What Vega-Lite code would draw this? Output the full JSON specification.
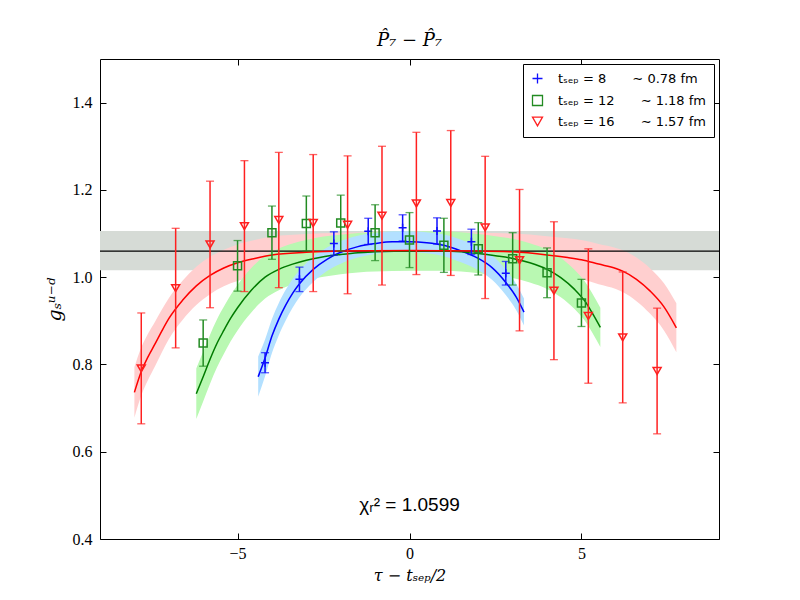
{
  "$schema": "https://vega.github.io/schema/vega-lite/v6.json",
  "width": 619,
  "height": 480,
  "autosize": {"type": "none"},
  "padding": {"left": 100, "top": 59, "right": 81, "bottom": 61},
  "background": "white",
  "title": {"text": "P̂₇ − P̂₇", "font": "DejaVu Serif", "fontStyle": "italic", "fontWeight": "normal", "fontSize": 18, "offset": 9, "color": "black"},
  "config": {
    "view": {"stroke": "black", "strokeWidth": 1},
    "axis": {"grid": false, "domain": false, "tickColor": "black", "tickSize": -6, "tickWidth": 1, "labelFont": "Liberation Serif", "labelFontSize": 16, "labelColor": "black", "titleFont": "DejaVu Serif", "titleFontStyle": "italic", "titleFontSize": 16, "titleFontWeight": "normal", "titleColor": "black"},
    "legend": {"orient": "top-right", "offset": 5, "padding": 8, "strokeColor": "black", "fillColor": "white", "cornerRadius": 0, "labelFont": "DejaVu Sans", "labelFontSize": 13, "labelColor": "black", "symbolStrokeWidth": 1.3, "rowPadding": 5, "labelOffset": 14}
  },
  "datasets": {
    "pts": [
      {"s": "8", "x": -4.2, "y": 0.804, "lo": 0.781, "hi": 0.827},
      {"s": "8", "x": -3.2, "y": 0.995, "lo": 0.967, "hi": 1.023},
      {"s": "8", "x": -2.2, "y": 1.077, "lo": 1.050, "hi": 1.104},
      {"s": "8", "x": -1.2, "y": 1.105, "lo": 1.075, "hi": 1.135},
      {"s": "8", "x": -0.2, "y": 1.113, "lo": 1.083, "hi": 1.143},
      {"s": "8", "x": 0.8, "y": 1.106, "lo": 1.076, "hi": 1.136},
      {"s": "8", "x": 1.8, "y": 1.081, "lo": 1.052, "hi": 1.110},
      {"s": "8", "x": 2.8, "y": 1.009, "lo": 0.982, "hi": 1.036},
      {"s": "12", "x": -6, "y": 0.849, "lo": 0.796, "hi": 0.902},
      {"s": "12", "x": -5, "y": 1.026, "lo": 0.968, "hi": 1.084},
      {"s": "12", "x": -4, "y": 1.102, "lo": 1.041, "hi": 1.163},
      {"s": "12", "x": -3, "y": 1.123, "lo": 1.060, "hi": 1.186},
      {"s": "12", "x": -2, "y": 1.124, "lo": 1.060, "hi": 1.188},
      {"s": "12", "x": -1, "y": 1.102, "lo": 1.038, "hi": 1.166},
      {"s": "12", "x": 0, "y": 1.085, "lo": 1.022, "hi": 1.148},
      {"s": "12", "x": 1, "y": 1.073, "lo": 1.011, "hi": 1.135},
      {"s": "12", "x": 2, "y": 1.065, "lo": 1.005, "hi": 1.125},
      {"s": "12", "x": 3, "y": 1.042, "lo": 0.982, "hi": 1.102},
      {"s": "12", "x": 4, "y": 1.010, "lo": 0.953, "hi": 1.067},
      {"s": "12", "x": 5, "y": 0.941, "lo": 0.887, "hi": 0.995},
      {"s": "16", "x": -7.8, "y": 0.791, "lo": 0.664, "hi": 0.918},
      {"s": "16", "x": -6.8, "y": 0.975, "lo": 0.838, "hi": 1.112},
      {"s": "16", "x": -5.8, "y": 1.075, "lo": 0.930, "hi": 1.220},
      {"s": "16", "x": -4.8, "y": 1.117, "lo": 0.967, "hi": 1.267},
      {"s": "16", "x": -3.8, "y": 1.131, "lo": 0.976, "hi": 1.286},
      {"s": "16", "x": -2.8, "y": 1.124, "lo": 0.967, "hi": 1.281},
      {"s": "16", "x": -1.8, "y": 1.120, "lo": 0.962, "hi": 1.278},
      {"s": "16", "x": -0.8, "y": 1.141, "lo": 0.982, "hi": 1.300},
      {"s": "16", "x": 0.2, "y": 1.169, "lo": 1.006, "hi": 1.332},
      {"s": "16", "x": 1.2, "y": 1.170, "lo": 1.004, "hi": 1.336},
      {"s": "16", "x": 2.2, "y": 1.114, "lo": 0.951, "hi": 1.277},
      {"s": "16", "x": 3.2, "y": 1.039, "lo": 0.877, "hi": 1.201},
      {"s": "16", "x": 4.2, "y": 0.969, "lo": 0.811, "hi": 1.127},
      {"s": "16", "x": 5.2, "y": 0.911, "lo": 0.757, "hi": 1.065},
      {"s": "16", "x": 6.2, "y": 0.862, "lo": 0.712, "hi": 1.012},
      {"s": "16", "x": 7.2, "y": 0.785, "lo": 0.641, "hi": 0.929}
    ],
    "curves": [
      {"s": "8", "x": -4.4, "y": 0.772, "lo": 0.726, "hi": 0.818},
      {"s": "8", "x": -4.2, "y": 0.815, "lo": 0.773, "hi": 0.857},
      {"s": "8", "x": -4.0, "y": 0.865, "lo": 0.826, "hi": 0.904},
      {"s": "8", "x": -3.8, "y": 0.904, "lo": 0.867, "hi": 0.941},
      {"s": "8", "x": -3.6, "y": 0.936, "lo": 0.901, "hi": 0.971},
      {"s": "8", "x": -3.4, "y": 0.963, "lo": 0.930, "hi": 0.996},
      {"s": "8", "x": -3.2, "y": 0.985, "lo": 0.954, "hi": 1.016},
      {"s": "8", "x": -2.8, "y": 1.018, "lo": 0.989, "hi": 1.047},
      {"s": "8", "x": -2.4, "y": 1.041, "lo": 1.014, "hi": 1.068},
      {"s": "8", "x": -2.0, "y": 1.057, "lo": 1.031, "hi": 1.083},
      {"s": "8", "x": -1.5, "y": 1.070, "lo": 1.045, "hi": 1.095},
      {"s": "8", "x": -1.0, "y": 1.077, "lo": 1.053, "hi": 1.101},
      {"s": "8", "x": -0.5, "y": 1.081, "lo": 1.057, "hi": 1.105},
      {"s": "8", "x": 0.0, "y": 1.081, "lo": 1.057, "hi": 1.105},
      {"s": "8", "x": 0.5, "y": 1.079, "lo": 1.055, "hi": 1.103},
      {"s": "8", "x": 1.0, "y": 1.073, "lo": 1.048, "hi": 1.098},
      {"s": "8", "x": 1.5, "y": 1.060, "lo": 1.034, "hi": 1.086},
      {"s": "8", "x": 2.0, "y": 1.043, "lo": 1.016, "hi": 1.070},
      {"s": "8", "x": 2.4, "y": 1.022, "lo": 0.994, "hi": 1.050},
      {"s": "8", "x": 2.8, "y": 0.988, "lo": 0.959, "hi": 1.017},
      {"s": "8", "x": 3.1, "y": 0.955, "lo": 0.925, "hi": 0.985},
      {"s": "8", "x": 3.33, "y": 0.920, "lo": 0.889, "hi": 0.951},
      {"s": "12", "x": -6.2, "y": 0.733, "lo": 0.675, "hi": 0.791},
      {"s": "12", "x": -6.0, "y": 0.772, "lo": 0.715, "hi": 0.829},
      {"s": "12", "x": -5.8, "y": 0.812, "lo": 0.756, "hi": 0.868},
      {"s": "12", "x": -5.6, "y": 0.848, "lo": 0.793, "hi": 0.903},
      {"s": "12", "x": -5.4, "y": 0.878, "lo": 0.824, "hi": 0.932},
      {"s": "12", "x": -5.2, "y": 0.906, "lo": 0.853, "hi": 0.959},
      {"s": "12", "x": -5.0, "y": 0.930, "lo": 0.878, "hi": 0.982},
      {"s": "12", "x": -4.6, "y": 0.970, "lo": 0.919, "hi": 1.021},
      {"s": "12", "x": -4.2, "y": 1.000, "lo": 0.951, "hi": 1.049},
      {"s": "12", "x": -3.8, "y": 1.018, "lo": 0.970, "hi": 1.066},
      {"s": "12", "x": -3.4, "y": 1.030, "lo": 0.983, "hi": 1.077},
      {"s": "12", "x": -3.0, "y": 1.039, "lo": 0.993, "hi": 1.085},
      {"s": "12", "x": -2.5, "y": 1.047, "lo": 1.001, "hi": 1.093},
      {"s": "12", "x": -2.0, "y": 1.052, "lo": 1.007, "hi": 1.097},
      {"s": "12", "x": -1.5, "y": 1.056, "lo": 1.011, "hi": 1.101},
      {"s": "12", "x": -1.0, "y": 1.058, "lo": 1.013, "hi": 1.103},
      {"s": "12", "x": 0.0, "y": 1.060, "lo": 1.015, "hi": 1.105},
      {"s": "12", "x": 1.0, "y": 1.060, "lo": 1.015, "hi": 1.105},
      {"s": "12", "x": 1.5, "y": 1.058, "lo": 1.013, "hi": 1.103},
      {"s": "12", "x": 2.0, "y": 1.054, "lo": 1.009, "hi": 1.099},
      {"s": "12", "x": 2.5, "y": 1.049, "lo": 1.004, "hi": 1.094},
      {"s": "12", "x": 3.0, "y": 1.043, "lo": 0.998, "hi": 1.088},
      {"s": "12", "x": 3.5, "y": 1.033, "lo": 0.988, "hi": 1.078},
      {"s": "12", "x": 4.0, "y": 1.018, "lo": 0.973, "hi": 1.063},
      {"s": "12", "x": 4.4, "y": 0.999, "lo": 0.954, "hi": 1.044},
      {"s": "12", "x": 4.8, "y": 0.972, "lo": 0.927, "hi": 1.017},
      {"s": "12", "x": 5.1, "y": 0.945, "lo": 0.900, "hi": 0.990},
      {"s": "12", "x": 5.3, "y": 0.920, "lo": 0.875, "hi": 0.965},
      {"s": "12", "x": 5.55, "y": 0.885, "lo": 0.840, "hi": 0.930},
      {"s": "16", "x": -8.0, "y": 0.736, "lo": 0.678, "hi": 0.794},
      {"s": "16", "x": -7.8, "y": 0.784, "lo": 0.729, "hi": 0.839},
      {"s": "16", "x": -7.6, "y": 0.818, "lo": 0.765, "hi": 0.871},
      {"s": "16", "x": -7.4, "y": 0.847, "lo": 0.796, "hi": 0.898},
      {"s": "16", "x": -7.2, "y": 0.877, "lo": 0.828, "hi": 0.926},
      {"s": "16", "x": -7.0, "y": 0.905, "lo": 0.858, "hi": 0.952},
      {"s": "16", "x": -6.6, "y": 0.947, "lo": 0.902, "hi": 0.992},
      {"s": "16", "x": -6.2, "y": 0.980, "lo": 0.936, "hi": 1.024},
      {"s": "16", "x": -5.8, "y": 1.004, "lo": 0.961, "hi": 1.047},
      {"s": "16", "x": -5.4, "y": 1.021, "lo": 0.979, "hi": 1.063},
      {"s": "16", "x": -5.0, "y": 1.033, "lo": 0.991, "hi": 1.075},
      {"s": "16", "x": -4.5, "y": 1.043, "lo": 1.001, "hi": 1.085},
      {"s": "16", "x": -4.0, "y": 1.051, "lo": 1.009, "hi": 1.093},
      {"s": "16", "x": -3.0, "y": 1.057, "lo": 1.015, "hi": 1.099},
      {"s": "16", "x": -2.0, "y": 1.060, "lo": 1.018, "hi": 1.102},
      {"s": "16", "x": 0.0, "y": 1.061, "lo": 1.019, "hi": 1.103},
      {"s": "16", "x": 2.0, "y": 1.060, "lo": 1.018, "hi": 1.102},
      {"s": "16", "x": 3.0, "y": 1.058, "lo": 1.016, "hi": 1.100},
      {"s": "16", "x": 4.0, "y": 1.051, "lo": 1.008, "hi": 1.094},
      {"s": "16", "x": 4.6, "y": 1.045, "lo": 1.001, "hi": 1.089},
      {"s": "16", "x": 5.0, "y": 1.040, "lo": 0.995, "hi": 1.085},
      {"s": "16", "x": 5.5, "y": 1.030, "lo": 0.984, "hi": 1.076},
      {"s": "16", "x": 6.0, "y": 1.020, "lo": 0.973, "hi": 1.067},
      {"s": "16", "x": 6.2, "y": 1.014, "lo": 0.966, "hi": 1.062},
      {"s": "16", "x": 6.6, "y": 0.995, "lo": 0.945, "hi": 1.045},
      {"s": "16", "x": 7.0, "y": 0.968, "lo": 0.916, "hi": 1.020},
      {"s": "16", "x": 7.4, "y": 0.932, "lo": 0.878, "hi": 0.986},
      {"s": "16", "x": 7.76, "y": 0.884, "lo": 0.828, "hi": 0.940}
    ]
  },
  "layer": [
    {
      "data": {"values": [{"lo": 1.016, "hi": 1.106}]},
      "mark": {"type": "rect", "color": "#d6dbd6"},
      "encoding": {
        "y": {"field": "lo", "type": "quantitative", "scale": {"domain": [0.4, 1.5], "nice": false, "zero": false},
              "axis": {"orient": "left", "values": [0.4, 0.6, 0.8, 1.0, 1.2, 1.4], "format": ".1f", "title": "gₛᵘ⁻ᵈ", "labelPadding": 14, "titlePadding": 8, "titleFontSize": 19}},
        "y2": {"field": "hi"}
      }
    },
    {
      "data": {"name": "curves"},
      "transform": [{"filter": "datum.s == '16'"}],
      "mark": {"type": "area", "color": "#ffcfcf", "interpolate": "monotone", "opacity": 1},
      "encoding": {
        "x": {"field": "x", "type": "quantitative", "scale": {"domain": [-9, 9], "nice": false, "zero": false},
              "axis": {"orient": "bottom", "values": [-5, 0, 5], "title": "τ − tₛₑₚ/2", "labelPadding": 12, "titlePadding": 6}},
        "y": {"field": "lo", "type": "quantitative", "scale": {"domain": [0.4, 1.5], "nice": false, "zero": false},
              "axis": {"orient": "right", "values": [0.4, 0.6, 0.8, 1.0, 1.2, 1.4], "labels": false, "title": null}},
        "y2": {"field": "hi"}
      }
    },
    {
      "data": {"name": "curves"},
      "transform": [{"filter": "datum.s == '12'"}],
      "mark": {"type": "area", "color": "#b9f8b2", "interpolate": "monotone", "opacity": 1},
      "encoding": {
        "x": {"field": "x", "type": "quantitative", "scale": {"domain": [-9, 9], "nice": false, "zero": false},
              "axis": {"orient": "top", "values": [-5, 0, 5], "labels": false, "title": null}},
        "y": {"field": "lo", "type": "quantitative", "scale": {"domain": [0.4, 1.5], "nice": false, "zero": false}, "axis": null},
        "y2": {"field": "hi"}
      }
    },
    {
      "data": {"name": "curves"},
      "transform": [{"filter": "datum.s == '8'"}],
      "mark": {"type": "area", "color": "#b3e0ff", "interpolate": "monotone", "opacity": 1},
      "encoding": {
        "x": {"field": "x", "type": "quantitative", "scale": {"domain": [-9, 9], "nice": false, "zero": false}, "axis": null},
        "y": {"field": "lo", "type": "quantitative", "scale": {"domain": [0.4, 1.5], "nice": false, "zero": false}, "axis": null},
        "y2": {"field": "hi"}
      }
    },
    {
      "data": {"values": [{"v": 1.0599}]},
      "mark": {"type": "rule", "color": "black", "strokeWidth": 1.3},
      "encoding": {
        "y": {"field": "v", "type": "quantitative", "scale": {"domain": [0.4, 1.5], "nice": false, "zero": false}, "axis": null}
      }
    },
    {
      "data": {"name": "curves"},
      "mark": {"type": "line", "interpolate": "monotone", "strokeWidth": 1.5},
      "encoding": {
        "x": {"field": "x", "type": "quantitative", "scale": {"domain": [-9, 9], "nice": false, "zero": false}, "axis": null},
        "y": {"field": "y", "type": "quantitative", "scale": {"domain": [0.4, 1.5], "nice": false, "zero": false}, "axis": null},
        "color": {"field": "s", "type": "nominal", "scale": {"domain": ["8", "12", "16"], "range": ["#0000ff", "#007a00", "#ff0000"]}, "legend": null}
      }
    },
    {
      "data": {"name": "pts"},
      "mark": {"type": "rule", "strokeWidth": 1.5},
      "encoding": {
        "x": {"field": "x", "type": "quantitative", "scale": {"domain": [-9, 9], "nice": false, "zero": false}, "axis": null},
        "y": {"field": "lo", "type": "quantitative", "scale": {"domain": [0.4, 1.5], "nice": false, "zero": false}, "axis": null},
        "y2": {"field": "hi"},
        "color": {"field": "s", "type": "nominal", "scale": {"domain": ["8", "12", "16"], "range": ["#1010ff", "#228b22", "#ff2020"]}, "legend": null}
      }
    },
    {
      "data": {"name": "pts"},
      "mark": {"type": "tick", "orient": "horizontal", "size": 8, "thickness": 1.3},
      "encoding": {
        "x": {"field": "x", "type": "quantitative", "scale": {"domain": [-9, 9], "nice": false, "zero": false}, "axis": null},
        "y": {"field": "lo", "type": "quantitative", "scale": {"domain": [0.4, 1.5], "nice": false, "zero": false}, "axis": null},
        "color": {"field": "s", "type": "nominal", "scale": {"domain": ["8", "12", "16"], "range": ["#1010ff", "#228b22", "#ff2020"]}, "legend": null}
      }
    },
    {
      "data": {"name": "pts"},
      "mark": {"type": "tick", "orient": "horizontal", "size": 8, "thickness": 1.3},
      "encoding": {
        "x": {"field": "x", "type": "quantitative", "scale": {"domain": [-9, 9], "nice": false, "zero": false}, "axis": null},
        "y": {"field": "hi", "type": "quantitative", "scale": {"domain": [0.4, 1.5], "nice": false, "zero": false}, "axis": null},
        "color": {"field": "s", "type": "nominal", "scale": {"domain": ["8", "12", "16"], "range": ["#1010ff", "#228b22", "#ff2020"]}, "legend": null}
      }
    },
    {
      "data": {"name": "pts"},
      "mark": {"type": "point", "filled": false, "size": 64, "strokeWidth": 1.5, "opacity": 1},
      "encoding": {
        "x": {"field": "x", "type": "quantitative", "scale": {"domain": [-9, 9], "nice": false, "zero": false}, "axis": null},
        "y": {"field": "y", "type": "quantitative", "scale": {"domain": [0.4, 1.5], "nice": false, "zero": false}, "axis": null},
        "color": {"field": "s", "type": "nominal", "scale": {"domain": ["8", "12", "16"], "range": ["#1010ff", "#228b22", "#ff2020"]},
                  "legend": {"title": null, "labelExpr": "datum.label == '8' ? 'tₛₑₚ = 8\u2003\u2003∼ 0.78 fm' : datum.label == '12' ? 'tₛₑₚ = 12\u2003\u2003∼ 1.18 fm' : 'tₛₑₚ = 16\u2003\u2003∼ 1.57 fm'"}},
        "shape": {"field": "s", "type": "nominal", "scale": {"domain": ["8", "12", "16"], "range": ["M-1,0H1M0,-1V1", "square", "triangle-down"]},
                  "legend": {"title": null, "labelExpr": "datum.label == '8' ? 'tₛₑₚ = 8\u2003\u2003∼ 0.78 fm' : datum.label == '12' ? 'tₛₑₚ = 12\u2003\u2003∼ 1.18 fm' : 'tₛₑₚ = 16\u2003\u2003∼ 1.57 fm'"}}
      }
    },
    {
      "data": {"values": [{}]},
      "mark": {"type": "text", "text": "χᵣ² = 1.0599", "font": "Liberation Sans", "fontSize": 19, "align": "center", "baseline": "middle", "color": "black"},
      "encoding": {
        "x": {"datum": 0, "type": "quantitative", "axis": null},
        "y": {"datum": 0.478, "type": "quantitative", "axis": null}
      }
    }
  ],
  "resolve": {"scale": {"color": "independent", "shape": "independent"}, "axis": {"x": "independent", "y": "independent"}}
}
